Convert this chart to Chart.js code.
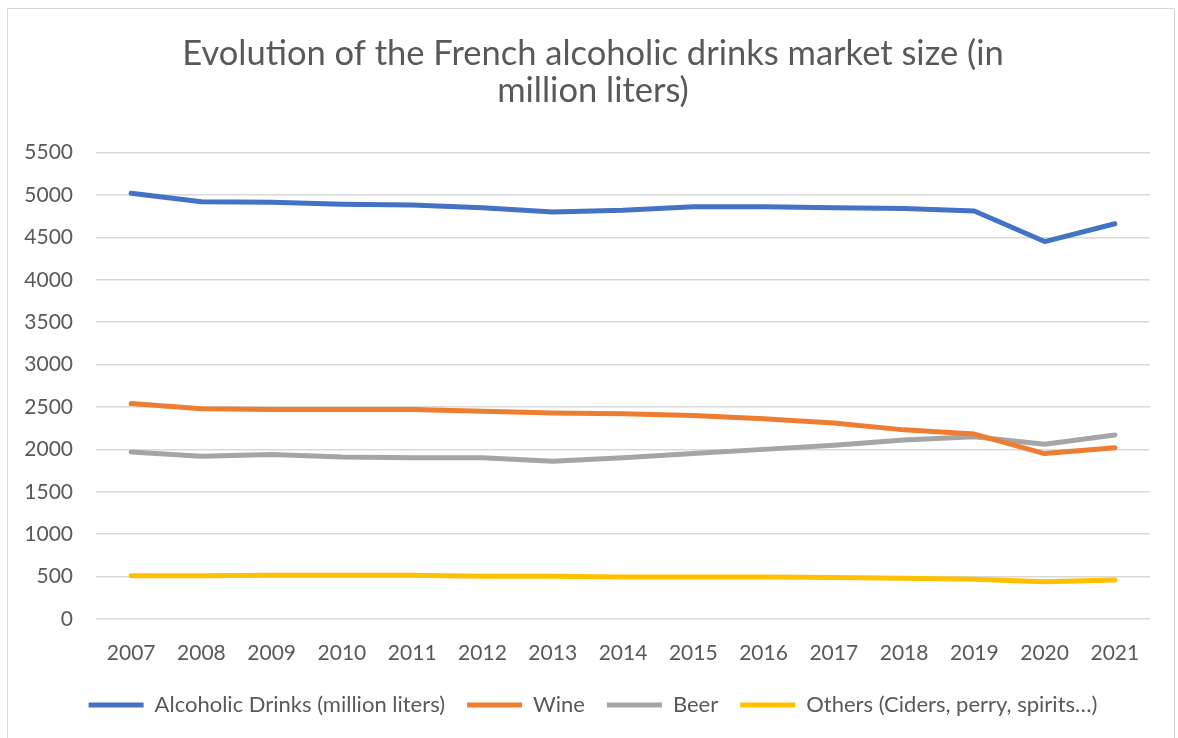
<!DOCTYPE html>
<html>
<head>
<meta charset="utf-8">
<script src="https://cdn.jsdelivr.net/npm/chart.js@4"></script>
<style>
    html, body { margin: 0; padding: 0; background: #fff; }
    #wrap { position: relative; width: 1178px; height: 738px; }
    #frame { position: absolute; left: 7px; top: 8px; width: 1168px; height: 740px; border: 1.5px solid #d9d9d9; box-sizing: border-box; }
    canvas { position: absolute; left: 0; top: 0; }
</style>
</head>
<body>
<div id="wrap">
    <div id="frame"></div>
    <canvas id="marketChart" width="1178" height="738"></canvas>
</div>
<script>
const years = ['2007', '2008', '2009', '2010', '2011', '2012', '2013', '2014', '2015', '2016', '2017', '2018', '2019', '2020', '2021'];

const alcoholicDrinks = [5020, 4920, 4915, 4890, 4880, 4850, 4800, 4820, 4860, 4860, 4850, 4840, 4810, 4450, 4660];
const wine = [2540, 2480, 2470, 2470, 2470, 2450, 2430, 2420, 2400, 2360, 2310, 2230, 2180, 1950, 2020];
const beer = [1970, 1920, 1940, 1910, 1900, 1900, 1860, 1900, 1950, 2000, 2050, 2110, 2150, 2060, 2170];
const others = [510, 510, 515, 515, 515, 505, 505, 495, 495, 495, 490, 480, 470, 440, 460];

const seriesNames = ['Alcoholic Drinks (million liters)', 'Wine', 'Beer', 'Others (Ciders, perry, spirits…)'];
const seriesColors = ['#4472C4', '#ED7D31', '#A5A5A5', '#FFC000'];

const titleLines = ['Evolution of the French alcoholic drinks market size (in', 'million liters)'];

const textGray = '#595959';
const fontName = 'Lato, "Open Sans", sans-serif';

function makeDataset(label, data, color) {
    return {
        label: label,
        data: data,
        borderColor: color,
        backgroundColor: color,
        borderWidth: 5,
        borderCapStyle: 'round',
        borderJoinStyle: 'round',
        pointRadius: 0,
        tension: 0,
        fill: false
    };
}

document.addEventListener('DOMContentLoaded', () => {
    const ctx = document.getElementById('marketChart').getContext('2d');

    new Chart(ctx, {
        type: 'line',
        data: {
            labels: years,
            datasets: [
                makeDataset(seriesNames[0], alcoholicDrinks, seriesColors[0]),
                makeDataset(seriesNames[1], wine, seriesColors[1]),
                makeDataset(seriesNames[2], beer, seriesColors[2]),
                makeDataset(seriesNames[3], others, seriesColors[3])
            ]
        },
        options: {
            responsive: false,
            animation: false,
            layout: {
                padding: { left: 8, right: 0, top: 0, bottom: 12 }
            },
            scales: {
                x: {
                    offset: true,
                    grid: { display: false, drawTicks: false },
                    border: { display: false },
                    ticks: {
                        color: textGray,
                        font: { family: fontName, size: 21 },
                        padding: 22,
                        maxRotation: 0,
                        autoSkip: false
                    },
                    afterFit: (scale) => { scale.height = 53; }
                },
                y: {
                    min: 0,
                    max: 5500,
                    grid: { color: '#d9d9d9', lineWidth: 1.5, drawTicks: false },
                    border: { display: false },
                    ticks: {
                        stepSize: 500,
                        color: textGray,
                        font: { family: fontName, size: 21 },
                        padding: 23,
                        callback: (value) => String(value)
                    },
                    afterFit: (scale) => { scale.width = 88; }
                },
                // empty right axis, only keeps a margin on the right side
                yRight: {
                    position: 'right',
                    grid: { display: false, drawTicks: false },
                    border: { display: false },
                    ticks: { display: false },
                    afterFit: (scale) => { scale.width = 28; }
                }
            },
            plugins: {
                title: {
                    display: true,
                    text: titleLines,
                    color: textGray,
                    font: { family: fontName, size: 34.5, weight: 'normal', lineHeight: 1.08 },
                    padding: { top: 35, bottom: 43 }
                },
                legend: {
                    position: 'bottom',
                    labels: {
                        usePointStyle: true,
                        pointStyle: 'line',
                        pointStyleWidth: 55,
                        color: textGray,
                        font: { family: fontName, size: 22 },
                        padding: 22
                    }
                },
                tooltip: { enabled: false }
            }
        }
    });
});
</script>
</body>
</html>
